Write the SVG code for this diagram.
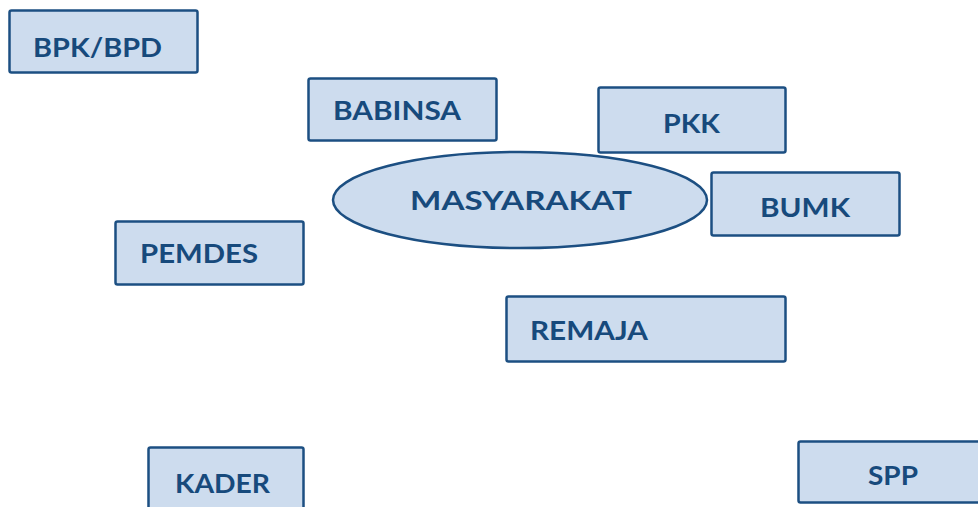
<svg xmlns="http://www.w3.org/2000/svg" width="978" height="507" viewBox="0 0 978 507">
<style>
.box{fill:#cddcee;stroke:#1c4f82;stroke-width:2.5}
.lbl{font-family:Lato,"Open Sans","Liberation Sans",sans-serif;font-weight:bold;font-size:27px;fill:#174a7c}
</style>
<rect width="978" height="507" fill="#ffffff"/>
<g id="connectors"></g>
<g id="bpk"><rect class="box" x="9.5" y="10.5" width="188" height="62" rx="2"/><text class="lbl" x="33" y="57" textLength="129" lengthAdjust="spacingAndGlyphs">BPK/BPD</text></g>
<g id="babinsa"><rect class="box" x="308.5" y="78.5" width="188" height="62" rx="2"/><text class="lbl" x="333" y="120" textLength="128" lengthAdjust="spacingAndGlyphs">BABINSA</text></g>
<g id="pkk"><rect class="box" x="598.5" y="87.5" width="187" height="65" rx="2"/><text class="lbl" x="663" y="133" textLength="57" lengthAdjust="spacingAndGlyphs">PKK</text></g>
<g id="masyarakat"><ellipse class="box" cx="520" cy="200" rx="187" ry="48" stroke-width="2"/><text class="lbl" x="410" y="210" textLength="222" lengthAdjust="spacingAndGlyphs">MASYARAKAT</text></g>
<g id="bumk"><rect class="box" x="711.5" y="172.5" width="188" height="63" rx="2"/><text class="lbl" x="760" y="217" textLength="90" lengthAdjust="spacingAndGlyphs">BUMK</text></g>
<g id="pemdes"><rect class="box" x="115.5" y="221.5" width="188" height="63" rx="2"/><text class="lbl" x="140" y="263" textLength="118" lengthAdjust="spacingAndGlyphs">PEMDES</text></g>
<g id="remaja"><rect class="box" x="506.5" y="296.5" width="279" height="65" rx="2"/><text class="lbl" x="530" y="340" textLength="118" lengthAdjust="spacingAndGlyphs">REMAJA</text></g>
<g id="kader"><rect class="box" x="148.5" y="447.5" width="155" height="70" rx="2"/><text class="lbl" x="175" y="493" textLength="95" lengthAdjust="spacingAndGlyphs">KADER</text></g>
<g id="spp"><rect class="box" x="798.5" y="441.5" width="190" height="61" rx="2"/><text class="lbl" x="868" y="485" textLength="50" lengthAdjust="spacingAndGlyphs">SPP</text></g>
</svg>
